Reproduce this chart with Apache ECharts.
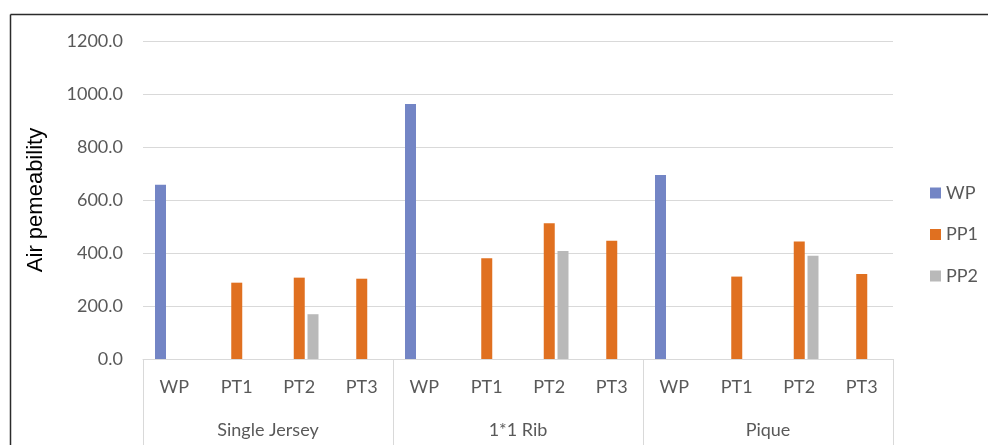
<!DOCTYPE html>
<html>
<head>
<meta charset="utf-8">
<style>
  html, body { margin: 0; padding: 0; background: #ffffff; }
  #chart { width: 988px; height: 445px; }
</style>
<script src="https://cdn.jsdelivr.net/npm/echarts@6/dist/echarts.min.js"></script>
</head>
<body>
<div id="chart"></div>
<script>
// Fabric groups and the treatments within each group
const groups = ['Single Jersey', '1*1 Rib', 'Pique'];
const treatments = ['WP', 'PT1', 'PT2', 'PT3'];
const categories = ['WP', 'PT1', 'PT2', 'PT3', 'WP', 'PT1', 'PT2', 'PT3', 'WP', 'PT1', 'PT2', 'PT3'];

// Air permeability per category (null = not measured for that series)
const wpValues  = [658, null, null, null, 962, null, null, null, 694, null, null, null];
const pp1Values = [null, 288, 307, 303, null, 380, 512, 446, null, 311, 443, 321];
const pp2Values = [null, null, 169, null, null, null, 408, null, null, null, 390, null];

const yTicks = { min: 0, max: 1200, interval: 200 };

const labelFont = 'Lato, "Open Sans", sans-serif';
const textGray = '#595959';
const lineGray = '#d9d9d9';

const chart = echarts.init(document.getElementById('chart'), null, { renderer: 'canvas' });

chart.setOption({
  backgroundColor: '#ffffff',
  animation: false,
  grid: { left: 143, right: 95, top: 41, bottom: 86, containLabel: false },
  legend: {
    orient: 'vertical',
    left: 930,
    top: 184,
    padding: 0,
    itemWidth: 11,
    itemHeight: 11,
    itemGap: 23.5,
    icon: 'rect',
    textStyle: { color: textGray, fontSize: 18, fontFamily: labelFont },
    data: ['WP', 'PP1', 'PP2']
  },
  xAxis: [
    {
      type: 'category',
      data: categories,
      position: 'bottom',
      axisLine: { show: true, lineStyle: { color: lineGray, width: 1 } },
      axisTick: { show: false },
      axisLabel: { color: textGray, fontSize: 18, fontFamily: labelFont, margin: 19, interval: 0 }
    },
    {
      type: 'category',
      data: groups,
      position: 'bottom',
      axisLine: { show: false },
      axisTick: { show: true, length: 90, inside: false, lineStyle: { color: lineGray, width: 1 } },
      axisLabel: { color: textGray, fontSize: 18, fontFamily: labelFont, margin: 62, interval: 0 },
      splitLine: { show: false }
    }
  ],
  yAxis: {
    type: 'value',
    min: yTicks.min,
    max: yTicks.max,
    interval: yTicks.interval,
    name: 'Air pemeability',
    nameLocation: 'middle',
    nameGap: 96,
    nameRotate: 90,
    nameTextStyle: { color: '#000000', fontSize: 22, fontFamily: '"Liberation Sans", Arial, sans-serif' },
    axisLine: { show: false },
    axisTick: { show: false },
    axisLabel: {
      color: textGray, fontSize: 18, fontFamily: labelFont, margin: 20,
      formatter: v => v.toFixed(1)
    },
    splitLine: { lineStyle: { color: lineGray, width: 1 } }
  },
  series: [
    { name: 'WP',  type: 'bar', data: wpValues,  barWidth: 11, barGap: '25%', itemStyle: { color: '#7385c5' } },
    { name: 'PP1', type: 'bar', data: pp1Values, barWidth: 11, barGap: '25%', itemStyle: { color: '#e07020' } },
    { name: 'PP2', type: 'bar', data: pp2Values, barWidth: 11, barGap: '25%', itemStyle: { color: '#b9b9b9' } }
  ],
  graphic: [
    // outer frame: top and left edges
    { type: 'line', shape: { x1: 10.5, y1: 14.5, x2: 988, y2: 14.5 }, style: { stroke: '#2b2b2b', lineWidth: 1.5 }, silent: true },
    { type: 'line', shape: { x1: 10.5, y1: 14.5, x2: 10.5, y2: 445 }, style: { stroke: '#2b2b2b', lineWidth: 1.5 }, silent: true }
  ]
});
</script>
</body>
</html>
